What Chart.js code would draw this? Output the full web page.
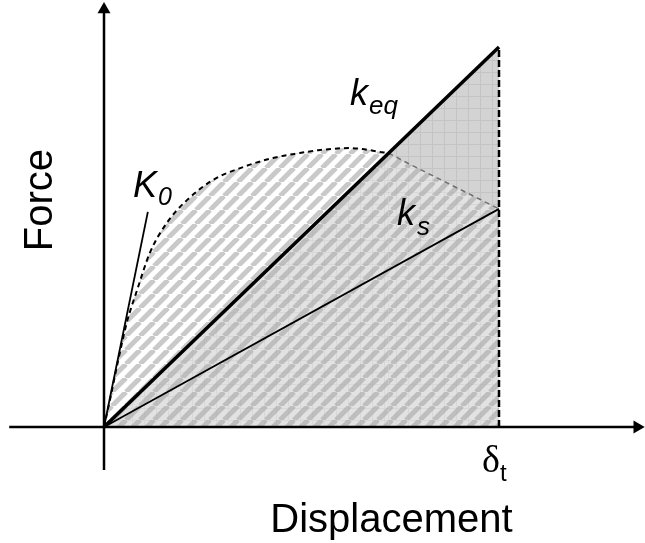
<!DOCTYPE html>
<html lang="en">
<head>
<meta charset="UTF-8">
<title>Force - Displacement</title>
<script src="https://cdn.jsdelivr.net/npm/chart.js"></script>
<style>
    html, body { margin: 0; padding: 0; background: #fff; }
    #wrap { width: 645px; height: 543px; }
</style>
</head>
<body>
<div id="wrap"><canvas id="forceChart" width="645" height="543"></canvas></div>
<script>
// displacement normalised so that delta_t = 1, force so that k_eq reaches 1 at delta_t
const capX = [0, 0.015, 0.035, 0.058, 0.084, 0.116, 0.159, 0.21, 0.276, 0.352, 0.428, 0.496, 0.547, 0.623, 0.699, 0.72, 0.76, 1.0];
const capY = [0, 0.071, 0.171, 0.276, 0.361, 0.458, 0.537, 0.597, 0.650, 0.684, 0.708, 0.721, 0.729, 0.734, 0.724, 0.72, 0.699, 0.574];
const kinkX = 0.72; // where the curve meets k_eq, dashed turns grey after it

const keqX = [0, 1];
const keqY = [0, 1];
const ksX = [0, 1];
const ksY = [0, 0.574];
const k0X = [0, 0.111];
const k0Y = [0, 0.566];
const targetX = [1, 1];
const targetY = [0, 1];

const xAxisX = [-0.24, 1.35];
const xAxisY = [0, 0];
const yAxisX = [0, 0];
const yAxisY = [-0.113, 1.099];

const pts = (xs, ys) => xs.map((x, i) => ({ x: x, y: ys[i] }));

const sans = '"Liberation Sans", Arial, sans-serif';
const textMarks = [
    { text: 'Force', x: -0.1316, y: 0.597, font: '40px ' + sans, align: 'center', rotate: true },
    { text: 'Displacement', x: 0.7278, y: -0.276, font: '40px ' + sans, align: 'center' },
    { text: '\u03b4', x: 0.957, y: -0.118, font: '38px "Liberation Serif", serif', sub: 't', subFont: '24px ' + sans, subDx: 0, subDy: 9 },
    { text: 'K', x: 0.0734, y: 0.605, font: 'italic 36px ' + sans, sub: '0', subFont: 'italic 25px ' + sans, subDx: 1, subDy: 8 },
    { text: 'k', x: 0.6228, y: 0.847, font: 'italic 36px ' + sans, sub: 'eq', subFont: 'italic 26px ' + sans, subDx: 1, subDy: 9 },
    { text: 'k', x: 0.7418, y: 0.5316, font: 'italic 36px ' + sans, sub: 's', subFont: 'italic 26px ' + sans, subDx: 2, subDy: 10 }
];

function gridPattern() {
    const c = document.createElement('canvas');
    c.width = 12; c.height = 12;
    const g = c.getContext('2d');
    g.fillStyle = '#d3d3d3';
    g.fillRect(0, 0, 12, 12);
    g.fillStyle = '#c4c4c4';
    g.fillRect(0, 0, 12, 1);
    g.fillRect(0, 0, 1, 12);
    return g.createPattern(c, 'repeat');
}

function hatchPattern() {
    const s = 14;
    const c = document.createElement('canvas');
    c.width = s; c.height = s;
    const g = c.getContext('2d');
    g.fillStyle = 'rgba(255,255,255,0.35)';
    g.fillRect(0, 0, s, s);
    g.strokeStyle = 'rgba(165,165,165,0.6)';
    g.lineWidth = 5;
    for (let k = -1; k <= 1; k++) {
        g.beginPath();
        g.moveTo(k * s, s);
        g.lineTo(k * s + s, 0);
        g.stroke();
    }
    return g.createPattern(c, 'repeat');
}

const labelPlugin = {
    id: 'labels',
    afterDatasetsDraw(chart) {
        const ctx = chart.ctx;
        const xs = chart.scales.x, ys = chart.scales.y;
        ctx.save();
        ctx.fillStyle = '#000';
        ctx.textBaseline = 'alphabetic';
        textMarks.forEach(m => {
            ctx.save();
            ctx.translate(xs.getPixelForValue(m.x), ys.getPixelForValue(m.y));
            if (m.rotate) ctx.rotate(-Math.PI / 2);
            ctx.font = m.font;
            ctx.textAlign = m.align || 'left';
            ctx.fillText(m.text, 0, 0);
            if (m.sub) {
                const w = ctx.measureText(m.text).width;
                ctx.font = m.subFont;
                ctx.textAlign = 'left';
                ctx.fillText(m.sub, w + m.subDx, m.subDy);
            }
            ctx.restore();
        });
        ctx.restore();
    }
};

const ctx = document.getElementById('forceChart').getContext('2d');
new Chart(ctx, {
    type: 'line',
    data: {
        datasets: [
            {   // area under k_eq up to delta_t
                data: pts(keqX, keqY),
                fill: 'origin',
                backgroundColor: gridPattern(),
                borderWidth: 0,
                order: 10
            },
            {   // capacity curve
                data: pts(capX, capY),
                fill: 'origin',
                backgroundColor: hatchPattern(),
                borderColor: '#000',
                borderWidth: 2,
                borderDash: [5, 4],
                cubicInterpolationMode: 'monotone',
                segment: {
                    borderColor: c => c.p0.parsed.x >= kinkX - 1e-6 ? '#707070' : '#000',
                    borderWidth: c => c.p0.parsed.x >= kinkX - 1e-6 ? 1.5 : 2
                },
                order: 9
            },
            {   // delta_t
                data: pts(targetX, targetY),
                borderColor: '#000',
                borderWidth: 2.5,
                borderDash: [7, 3],
                order: 5
            },
            {   // k_eq
                data: pts(keqX, keqY),
                borderColor: '#000',
                borderWidth: 3.5,
                order: 3
            },
            {   // k_s
                data: pts(ksX, ksY),
                borderColor: '#000',
                borderWidth: 1.8,
                order: 3
            },
            {   // K_0
                data: pts(k0X, k0Y),
                borderColor: '#000',
                borderWidth: 1.8,
                order: 3
            },
            {   // x axis with arrow
                data: pts(xAxisX, xAxisY),
                borderColor: '#000',
                borderWidth: 2.5,
                pointRadius: [0, 7.5],
                pointStyle: 'triangle',
                pointRotation: 90,
                pointBackgroundColor: '#000',
                pointBorderWidth: 0,
                clip: false,
                order: 1
            },
            {   // y axis with arrow
                data: pts(yAxisX, yAxisY),
                borderColor: '#000',
                borderWidth: 2.5,
                pointRadius: [0, 7.5],
                pointStyle: 'triangle',
                pointRotation: 0,
                pointBackgroundColor: '#000',
                pointBorderWidth: 0,
                clip: false,
                order: 1
            }
        ]
    },
    options: {
        responsive: false,
        maintainAspectRatio: false,
        animation: false,
        events: [],
        layout: { padding: 0, autoPadding: false },
        elements: { point: { radius: 0 } },
        plugins: {
            legend: { display: false },
            tooltip: { enabled: false }
        },
        scales: {
            x: { type: 'linear', display: false, min: -0.2633, max: 1.3696, bounds: 'data' },
            y: { type: 'linear', display: false, min: -0.3053, max: 1.1237, bounds: 'data' }
        }
    },
    plugins: [labelPlugin]
});
</script>
</body>
</html>
